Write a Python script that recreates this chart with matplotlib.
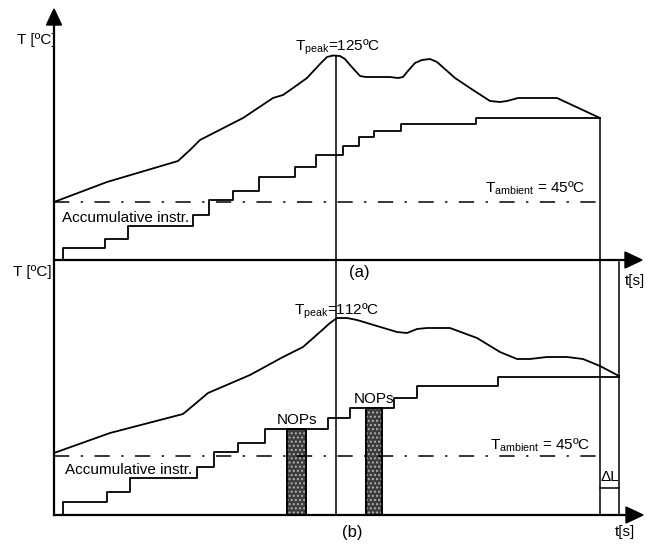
import numpy as np
import matplotlib
matplotlib.use('Agg')
import matplotlib.pyplot as plt
from matplotlib.patches import Polygon

plt.rcParams['font.family'] = ['Liberation Sans', 'DejaVu Sans']
plt.rcParams['mathtext.fontset'] = 'custom'
plt.rcParams['mathtext.rm'] = 'Liberation Sans'
plt.rcParams['mathtext.it'] = 'Liberation Sans'

# everything is in drawing units of the sketch (x = time, y = height, downwards)
# (a) temperature profile
top_temp_t = [54, 107, 178, 190, 200, 243, 273, 283, 293, 300, 307, 320, 327, 333, 340,
              345, 350, 360, 366, 390, 398, 403, 407, 415, 422, 430, 437, 455, 473,
              490, 500, 507, 518, 557, 600]
top_temp_y = [202, 182, 161, 150, 140, 118, 98, 95, 88, 83, 78, 64, 57, 55.5, 56,
              59, 65, 76, 77, 77, 78, 77, 72, 63, 60, 59, 62, 78, 90,
              101, 102, 101, 98, 98, 118]
top_step_t = [63, 63, 105, 128, 193, 209, 233, 259, 295, 316, 343, 359, 374, 401, 476, 600]
top_step_y = [260, 248, 239, 226, 215, 200, 191, 177, 167, 155, 146, 137, 131, 124, 118, 118]

# (b) temperature profile with NOPs inserted
bot_temp_t = [54, 110, 183, 195, 208, 250, 283, 293, 303, 320, 330, 337, 347, 357, 367,
              397, 407, 417, 427, 450, 477, 500, 517, 530, 547, 567, 583, 600, 619]
bot_temp_y = [453, 433, 414, 404, 393, 375, 357, 352, 347, 332, 323, 318, 318, 320, 323,
              332, 333, 329, 328, 328, 338, 352, 359, 359, 357, 357, 359, 366, 376]
bot_step_t = [63, 63, 107, 130, 197, 214, 238, 265, 328, 350, 394, 417, 498, 619]
bot_step_y = [515, 502, 492, 478, 467, 452, 443, 429, 418, 408, 398, 386, 377, 377]

nops_t = [296.5, 374]
nops_w = [19, 16]
nops_top = [429, 408]

ambient_y = [202, 456]
peak_labels = ['125ºC', '112ºC']

fig = plt.figure(figsize=(6.57, 5.46), dpi=100)
ax = fig.add_axes([0, 0, 1, 1])
ax.set_xlim(0, 657)
ax.set_ylim(546, 0)
ax.axis('off')

k = 'black'
fs = 11

# axes of both panels
ax.plot([54, 54], [22, 515], color=k, lw=1.6)
ax.plot([54, 628], [260, 260], color=k, lw=1.6)
ax.plot([54, 628], [515, 515], color=k, lw=1.6)
ax.add_patch(Polygon([[46.5, 25], [61.5, 25], [54, 9]], closed=True, color=k))
ax.add_patch(Polygon([[625, 252], [625, 268], [642, 260]], closed=True, color=k))
ax.add_patch(Polygon([[626, 507], [626, 523], [643, 515]], closed=True, color=k))

# thin vertical guides
ax.plot([336, 336], [56, 515], color=k, lw=1.1)
ax.plot([600, 600], [118, 515], color=k, lw=1.1)
ax.plot([619, 619], [262, 515], color=k, lw=1.1)
ax.plot([600, 619], [488, 488], color=k, lw=1.1)

# curves and instruction staircases
ax.plot(top_temp_t, top_temp_y, color=k, lw=1.3)
ax.plot(bot_temp_t, bot_temp_y, color=k, lw=1.3)
ax.step(top_step_t, top_step_y, where='post', color=k, lw=1.3)
ax.step(bot_step_t, bot_step_y, where='post', color=k, lw=1.3)

for y in ambient_y:
    ax.plot([54, 600], [y, y], color=k, lw=1.1, dashes=(10, 7.5, 1.5, 7.5))

# NOPs bars
for x, w, top in zip(nops_t, nops_w, nops_top):
    ax.bar(x, top - 515, bottom=515, width=w, color='#3c3c3c', edgecolor=k, lw=1.2)
    ax.bar(x, top - 515, bottom=515, width=w, color='none', hatch='....',
           edgecolor='#b0b0b0', lw=0)
    ax.bar(x, top - 515, bottom=515, width=w, color='none', edgecolor=k, lw=1.2)
    ax.text(x, top - 9, 'NOPs', fontsize=fs, ha='center', va='center')

# labels
ax.text(17, 40, 'T [ºC]', fontsize=fs, ha='left', va='center')
ax.text(13, 272, 'T [ºC]', fontsize=fs, ha='left', va='center')
ax.text(338, 47, r'T$_{\mathrm{peak}}$=' + peak_labels[0], fontsize=fs, ha='center', va='center')
ax.text(337, 311, r'T$_{\mathrm{peak}}$=' + peak_labels[1], fontsize=fs, ha='center', va='center')
ax.text(585, 188, r'T$_{\mathrm{ambient}}$ = 45ºC', fontsize=fs, ha='right', va='center')
ax.text(590, 445, r'T$_{\mathrm{ambient}}$ = 45ºC', fontsize=fs, ha='right', va='center')
ax.text(62, 218, 'Accumulative instr.', fontsize=fs, ha='left', va='center')
ax.text(65, 470, 'Accumulative instr.', fontsize=fs, ha='left', va='center')
ax.text(359, 272, '(a)', fontsize=fs + 1, ha='center', va='center')
ax.text(352, 533, '(b)', fontsize=fs + 1, ha='center', va='center')
ax.text(635, 281, 't[s]', fontsize=fs, ha='center', va='center')
ax.text(625, 532, 't[s]', fontsize=fs, ha='center', va='center')
ax.text(609.5, 477, 'ΔL', fontsize=fs, ha='center', va='center')

fig.savefig('out.png', dpi=100)
